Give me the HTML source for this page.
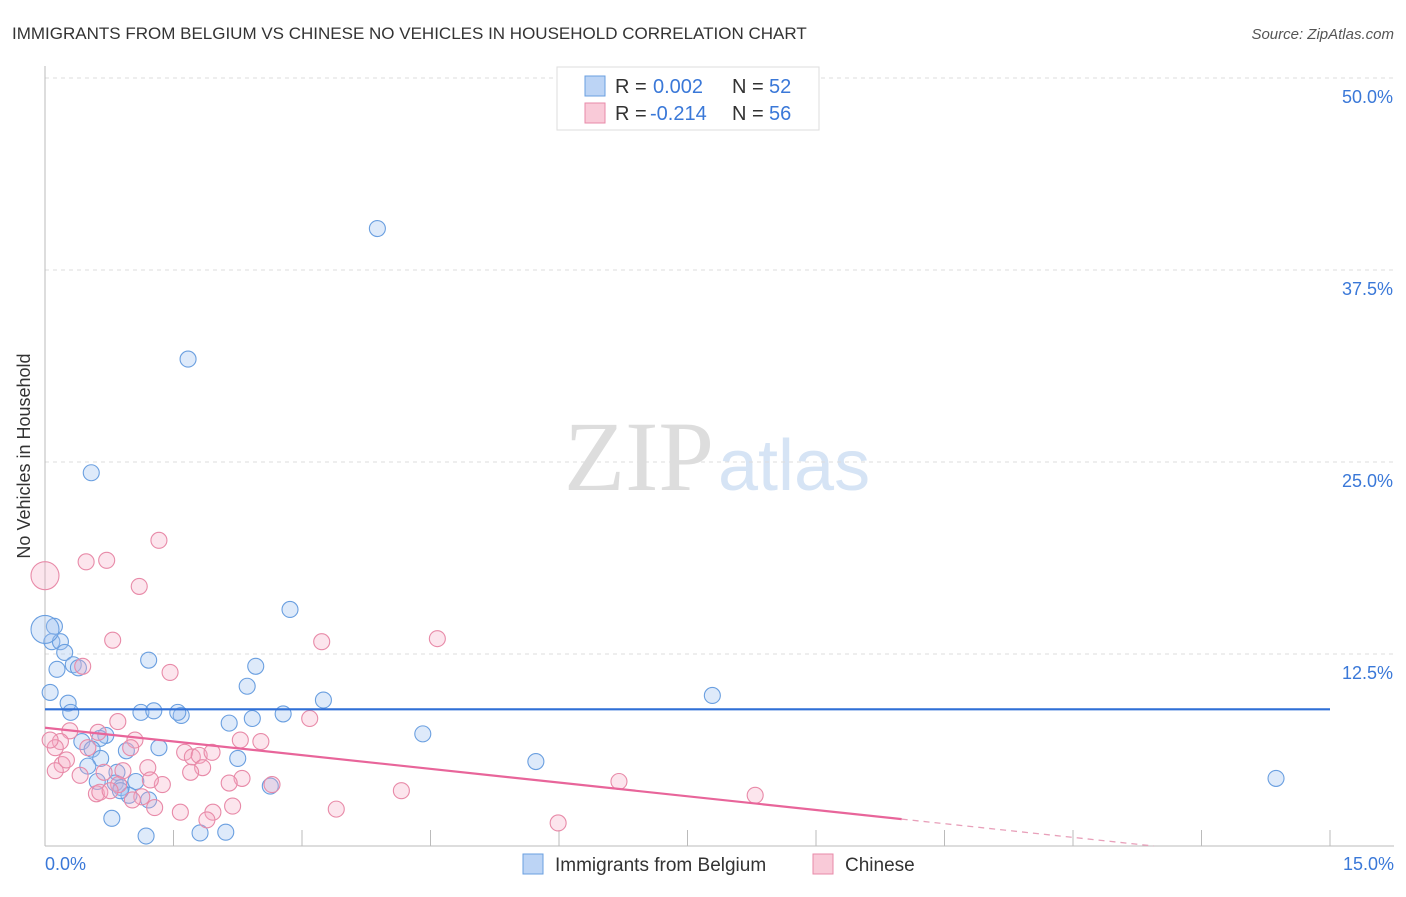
<!DOCTYPE html>
<html><head><meta charset="utf-8"><style>
body{margin:0;background:#fff;font-family:"Liberation Sans",sans-serif;}
</style></head><body>
<svg id="c" width="1406" height="892" xmlns="http://www.w3.org/2000/svg">
<text x="12" y="39" font-size="17" fill="#333">IMMIGRANTS FROM BELGIUM VS CHINESE NO VEHICLES IN HOUSEHOLD CORRELATION CHART</text>
<text x="1394" y="39" font-size="15" fill="#555" font-style="italic" text-anchor="end">Source: ZipAtlas.com</text>
<text x="30" y="456" font-size="18" fill="#333" text-anchor="middle" transform="rotate(-90 30 456)">No Vehicles in Household</text>
<text x="714" y="490" font-size="100" fill="#ddd" font-family="Liberation Serif,serif" text-anchor="end">ZIP</text>
<text x="718" y="490" font-size="72" fill="#d6e4f5">atlas</text>
<g id="grid"></g><g id="pts"></g><g id="lines"></g>
<g>
<rect x="557" y="67" width="262" height="63" fill="#fff" stroke="#ddd"/>
<rect x="585" y="76" width="20" height="20" fill="#bcd4f5" stroke="#6a9fe0"/>
<rect x="585" y="103" width="20" height="20" fill="#f9cad8" stroke="#e88aa8"/>
<text x="615" y="93" font-size="20" fill="#333">R =</text>
<text x="653" y="93" font-size="20" fill="#3a78d8">0.002</text>
<text x="732" y="93" font-size="20" fill="#333">N =</text>
<text x="769" y="93" font-size="20" fill="#3a78d8">52</text>
<text x="615" y="120" font-size="20" fill="#333">R =</text>
<text x="650" y="120" font-size="20" fill="#3a78d8">-0.214</text>
<text x="732" y="120" font-size="20" fill="#333">N =</text>
<text x="769" y="120" font-size="20" fill="#3a78d8">56</text>
</g>
<g>
<rect x="523" y="854" width="20" height="20" fill="#bcd4f5" stroke="#6a9fe0"/>
<text x="555" y="871" font-size="19" fill="#333">Immigrants from Belgium</text>
<rect x="813" y="854" width="20" height="20" fill="#f9cad8" stroke="#e88aa8"/>
<text x="845" y="871" font-size="19" fill="#333">Chinese</text>
</g>
</svg>
<script>
const yTicks=[12.5,25,37.5,50];
const xTickLabels=["0.0%","15.0%"];
const blueX=[3.88,1.67,0.54,2.86,0.11,0.08,0.18,0.23,0.14,0.33,0.39,1.21,2.46,2.36,0.06,0.27,0.30,1.12,1.27,1.59,1.55,2.15,2.42,2.78,3.25,7.79,4.41,0.71,0.64,0.43,0.55,0.95,1.33,2.25,0.65,0.50,0.84,0.82,1.06,0.61,0.89,0.98,1.21,2.63,5.73,14.37,0.78,1.18,1.81,2.11,0.0,0.88];
const blueY=[40.2,31.7,24.3,15.4,14.3,13.3,13.3,12.6,11.5,11.8,11.6,12.1,11.7,10.4,10.0,9.3,8.7,8.7,8.8,8.5,8.7,8.0,8.3,8.6,9.5,9.8,7.3,7.2,7.0,6.8,6.3,6.2,6.4,5.7,5.7,5.2,4.8,4.1,4.2,4.2,3.8,3.3,3.0,3.9,5.5,4.4,1.8,0.65,0.85,0.9,14.1,3.6];
const pinkX=[0,1.33,0.48,0.72,1.10,0.79,3.23,4.58,0.44,1.46,0.85,3.09,0.29,0.62,0.18,1.05,2.28,2.52,0.12,1.00,1.63,1.72,1.80,1.95,0.20,1.20,1.84,1.70,0.41,0.69,0.91,0.86,1.37,2.30,2.15,2.65,0.60,0.64,1.13,1.02,1.28,1.58,1.96,2.19,3.40,4.16,6.70,8.29,1.89,5.99,0.12,0.06,0.25,1.23,0.50,0.76];
const pinkY=[17.6,19.9,18.5,18.6,16.9,13.4,13.3,13.5,11.7,11.3,8.1,8.3,7.5,7.4,6.8,6.9,6.9,6.8,6.4,6.4,6.1,5.8,5.9,6.1,5.3,5.1,5.1,4.8,4.6,4.8,4.9,4.0,4.0,4.4,4.1,4.0,3.4,3.5,3.2,3.0,2.5,2.2,2.2,2.6,2.4,3.6,4.2,3.3,1.7,1.5,4.9,6.9,5.6,4.3,6.4,3.6];
const blueTrend=[8.9,8.9];
const pinkTrend=[7.7,-0.595];
const xs=v=>45+v/15*1285, ys=v=>846-v/12.5*192;
const NS="http://www.w3.org/2000/svg";
function mk(t,a,p){const e=document.createElementNS(NS,t);for(const k in a)e.setAttribute(k,a[k]);p.appendChild(e);return e;}
const g=document.getElementById('grid');
yTicks.forEach(v=>{const l=mk('line',{x1:45,x2:1394,y1:ys(v),y2:ys(v),stroke:'#ddd','stroke-dasharray':'4 4'},g);


const t=mk('text',{x:1393,y:ys(v)+25,'font-size':18,fill:'#3a78d8','text-anchor':'end'},g);t.textContent=v.toFixed(1)+'%';

});
const ax=mk('line',{x1:45,x2:45,y1:66,y2:846,stroke:'#bbb'},g);


const bx=mk('line',{x1:45,x2:1394,y1:846,y2:846,stroke:'#bbb'},g);


for(let i=0;i<=10;i++){const tk=mk('line',{x1:xs(i*1.5),x2:xs(i*1.5),y1:830,y2:846,stroke:'#bbb'},g);

}
[[0,'start',45],[15,'end',1394]].forEach((d,i)=>{const t=mk('text',{x:d[2],y:870,'font-size':18,fill:'#3a78d8','text-anchor':d[1]},g);t.textContent=xTickLabels[i];

});
const P=document.getElementById('pts');
function pts(X,Y,fill,stroke,name,bigIdx){X.forEach((x,i)=>{const c=mk('circle',{cx:xs(x),cy:ys(Y[i]),r:i===bigIdx?14:8,fill:fill,stroke:stroke,'stroke-width':1.1},P);

});}
pts(blueX,blueY,'rgba(160,196,240,0.35)','#6a9fe0','belgium-point',50);
pts(pinkX,pinkY,'rgba(245,170,195,0.3)','#e88aa8','chinese-point',0);
const L=document.getElementById('lines');
const bl=mk('line',{x1:xs(0),x2:xs(15),y1:ys(blueTrend[0]),y2:ys(blueTrend[1]),stroke:'#2f6fd6','stroke-width':2.2},L);


const pf=x=>pinkTrend[0]+pinkTrend[1]*x;
const pl=mk('line',{x1:xs(0),x2:xs(10),y1:ys(pf(0)),y2:ys(pf(10)),stroke:'#e8659a','stroke-width':2.2},L);


const xe=-pinkTrend[0]/pinkTrend[1];
const pd=mk('line',{x1:xs(10),x2:xs(Math.min(15,xe)),y1:ys(pf(10)),y2:ys(Math.max(0,pf(Math.min(15,xe)))),stroke:'#e8a0ba','stroke-width':1.3,'stroke-dasharray':'6 5'},L);


</script>
</body></html>
